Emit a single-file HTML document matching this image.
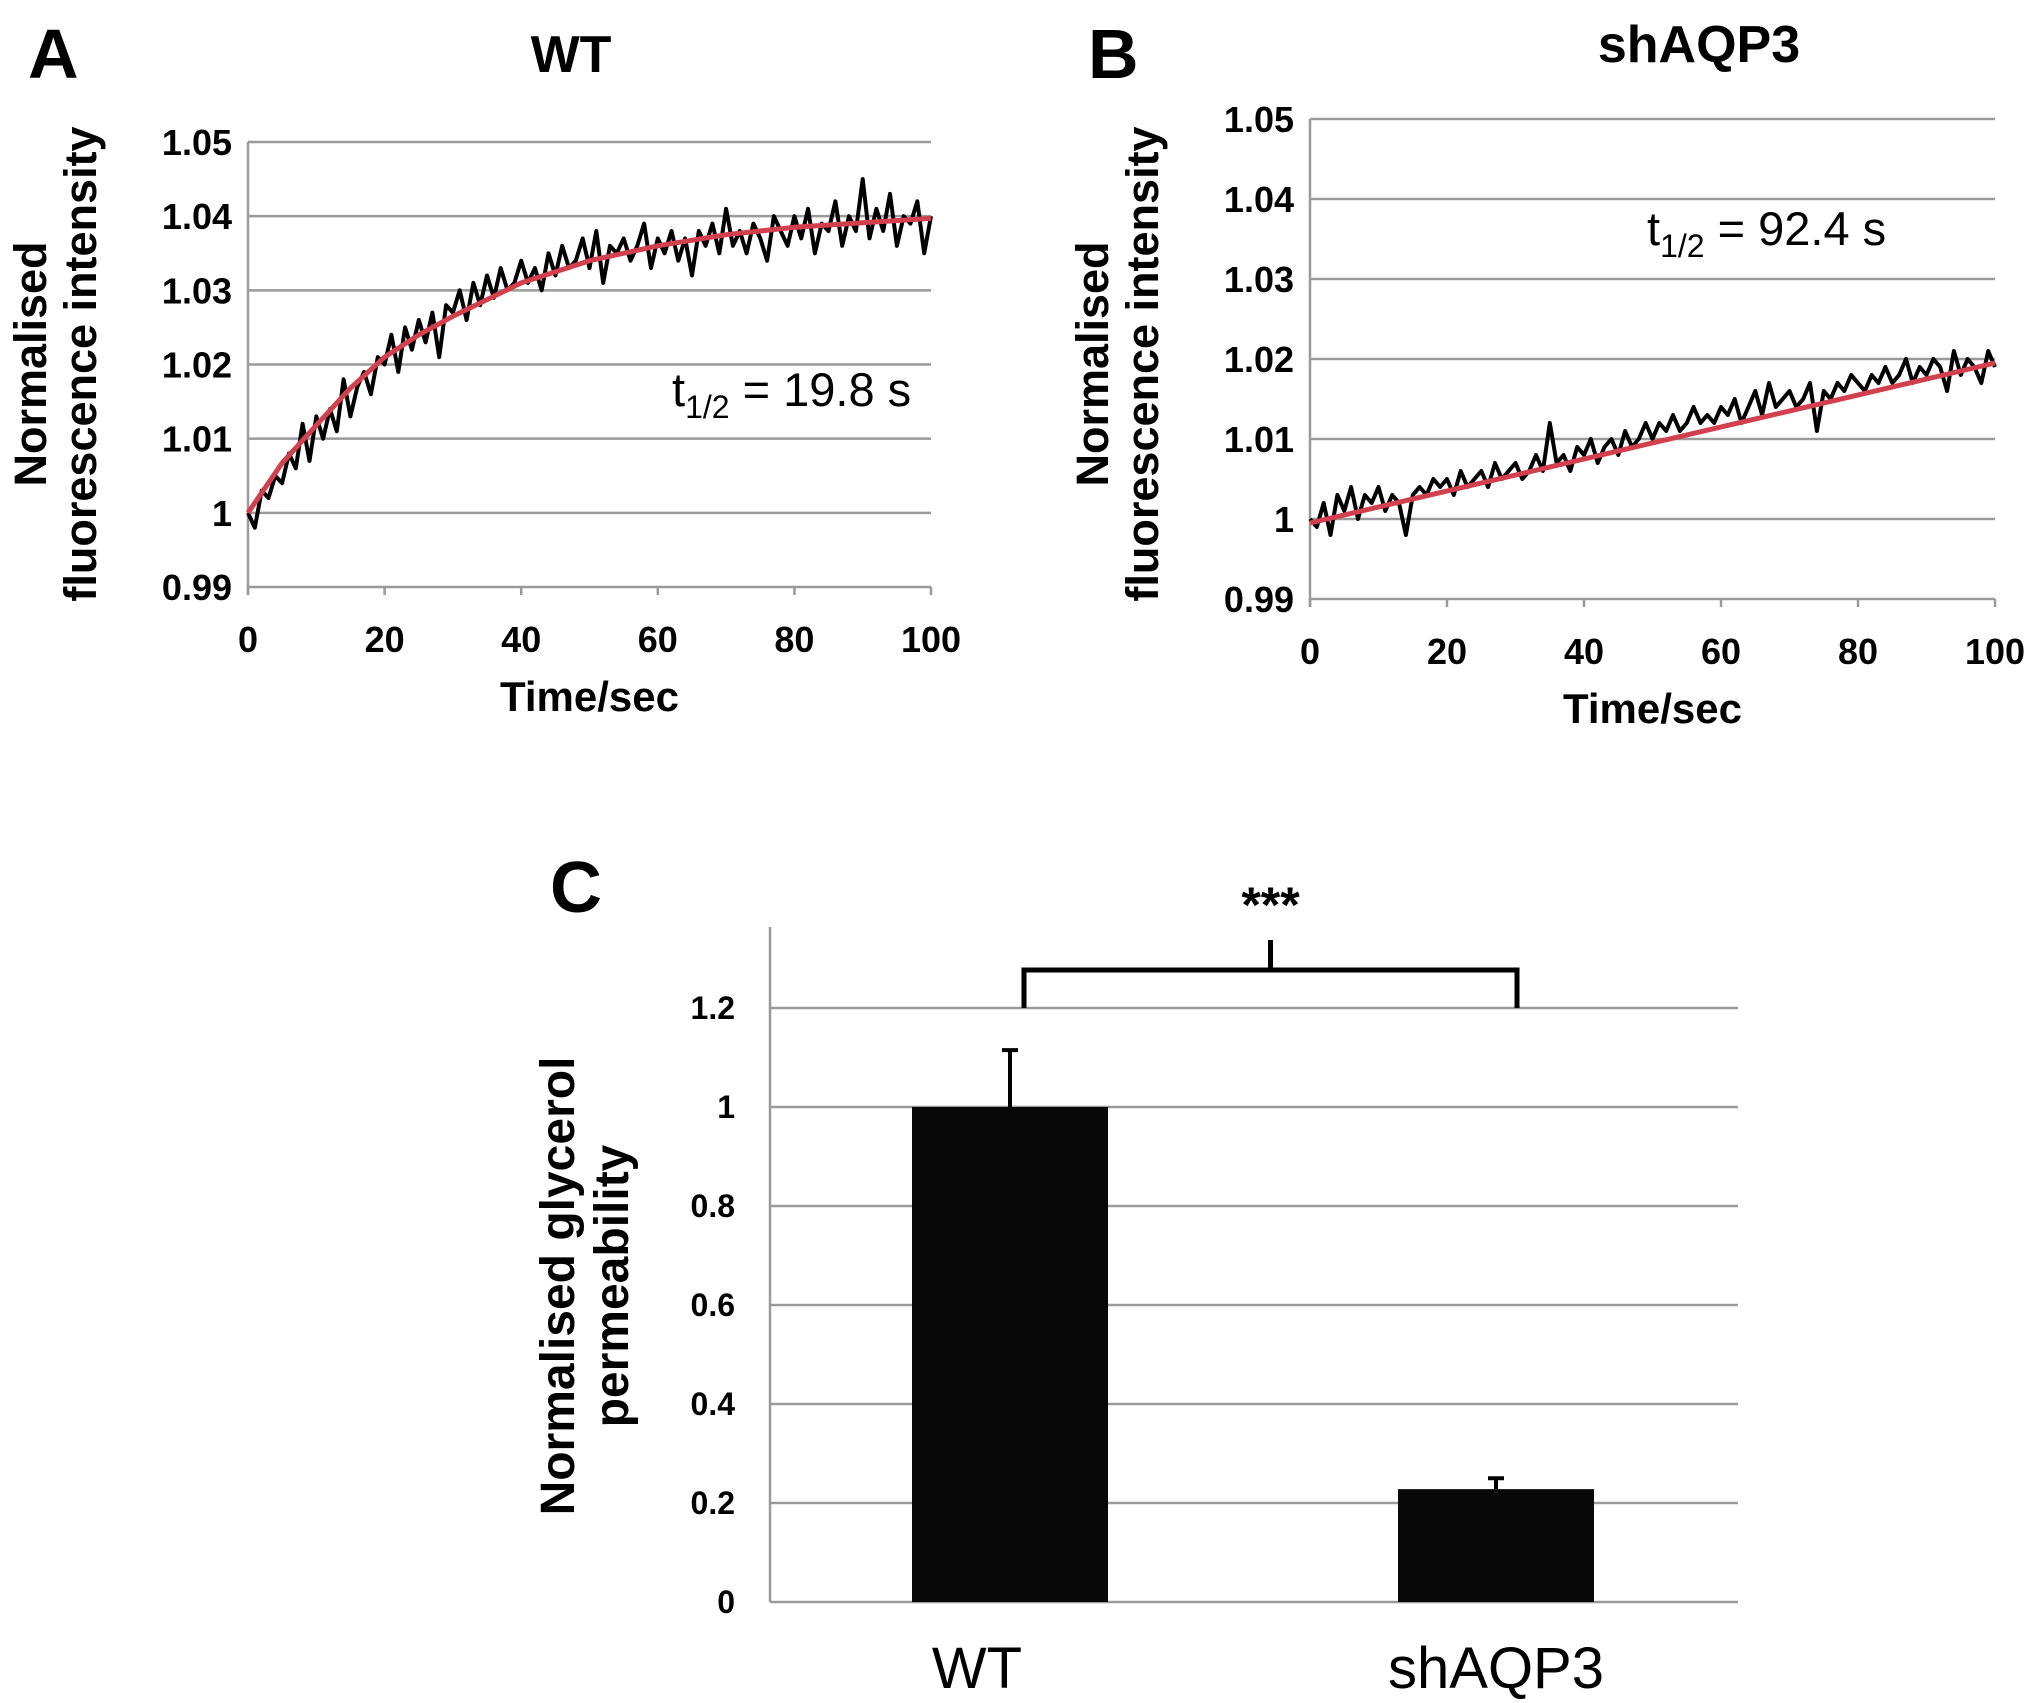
<!DOCTYPE html>
<html><head><meta charset="utf-8"><style>
html,body{margin:0;padding:0;background:#fff;}
svg{display:block;}
text{font-family:"Liberation Sans",Arial,sans-serif;}
</style></head><body>
<svg id="fig" width="2031" height="1703" viewBox="0 0 2031 1703" xmlns="http://www.w3.org/2000/svg">
<rect width="2031" height="1703" fill="#fff"/>
<text x="28" y="78" font-size="70" font-weight="bold">A</text>
<text x="571" y="72" font-size="52" font-weight="bold" text-anchor="middle">WT</text>
<text x="1088" y="78" font-size="70" font-weight="bold">B</text>
<text x="1699" y="62" font-size="52" font-weight="bold" text-anchor="middle">shAQP3</text>
<text x="550" y="912" font-size="72" font-weight="bold">C</text>
<g id="pa"></g>
<g id="pb"></g>
<g id="pc"></g>
</svg>
<script>
// ---- data ----
const timeTicks = [0,20,40,60,80,100];
const yTicksAB = [0.99,1,1.01,1.02,1.03,1.04,1.05];
const yTickLabelsAB = ["0.99","1","1.01","1.02","1.03","1.04","1.05"];
const wtRaw = [1.000,0.998,1.003,1.002,1.005,1.004,1.008,1.006,1.012,1.007,
1.013,1.010,1.014,1.011,1.018,1.013,1.017,1.019,1.016,1.021,
1.020,1.024,1.019,1.025,1.022,1.026,1.023,1.027,1.021,1.028,
1.027,1.030,1.026,1.031,1.028,1.032,1.029,1.033,1.030,1.031,
1.034,1.031,1.033,1.030,1.035,1.032,1.036,1.033,1.034,1.037,
1.033,1.038,1.031,1.036,1.035,1.037,1.034,1.036,1.039,1.033,
1.037,1.035,1.038,1.034,1.037,1.032,1.038,1.036,1.039,1.035,
1.041,1.036,1.038,1.035,1.039,1.037,1.034,1.040,1.038,1.036,
1.040,1.037,1.041,1.035,1.039,1.038,1.042,1.036,1.040,1.038,
1.045,1.037,1.041,1.038,1.043,1.036,1.040,1.039,1.042,1.035,1.040];
const wtFitT = [0,5,10,15,20,25,30,40,50,60,70,80,90,100];
const wtFit = [1.000,1.0067,1.0118,1.0168,1.0210,1.0240,1.0265,1.0310,1.0340,1.0360,1.0375,1.0385,1.0391,1.0397];
const shRaw = [1.000,0.999,1.002,0.998,1.003,1.001,1.004,1.000,1.003,1.002,
1.004,1.001,1.003,1.002,0.998,1.003,1.004,1.003,1.005,1.004,
1.005,1.003,1.006,1.004,1.005,1.006,1.004,1.007,1.005,1.006,
1.007,1.005,1.006,1.008,1.006,1.012,1.007,1.008,1.006,1.009,
1.008,1.010,1.007,1.009,1.010,1.008,1.011,1.009,1.010,1.012,
1.010,1.012,1.011,1.013,1.011,1.012,1.014,1.012,1.013,1.012,
1.014,1.013,1.015,1.012,1.014,1.016,1.013,1.017,1.014,1.015,
1.016,1.014,1.015,1.017,1.011,1.016,1.015,1.017,1.016,1.018,
1.017,1.016,1.018,1.017,1.019,1.017,1.018,1.020,1.017,1.019,
1.018,1.020,1.019,1.016,1.021,1.018,1.020,1.019,1.017,1.021,1.019];
const shFitT = [0,100];
const shFit = [0.9995,1.0195];
const barCats = ["WT","shAQP3"];
const barVals = [1.0,0.228];
const barErr = [0.115,0.022];
const yTicksC = [0,0.2,0.4,0.6,0.8,1,1.2];
const yTickLabelsC = ["0","0.2","0.4","0.6","0.8","1","1.2"];
const sigLabel = "***";

const NS="http://www.w3.org/2000/svg";
function mk(parent,tag,attrs,txt){const e=document.createElementNS(NS,tag);for(const k in attrs)e.setAttribute(k,attrs[k]);if(txt!==undefined)e.textContent=txt;parent.appendChild(e);return e;}

function lineChart(g,cfg,raw,fitT,fit,tText,tX,tY,pfx){
  const sx=v=>cfg.x0+(v-0)/(100-0)*(cfg.x1-cfg.x0);
  const sy=v=>cfg.y0+(v-0.99)/(1.05-0.99)*(cfg.y1-cfg.y0);
  yTicksAB.forEach((v,i)=>{
    const l=mk(g,'line',{x1:cfg.x0,x2:cfg.x1,y1:sy(v),y2:sy(v),stroke:'#9a9a9a','stroke-width':2.5});
    
    
    const t=mk(g,'text',{x:cfg.x0-16,y:sy(v)+13,'font-size':36,'font-weight':'bold','text-anchor':'end'},yTickLabelsAB[i]);
    
    
  });
  const ax=mk(g,'line',{x1:cfg.x0,x2:cfg.x0,y1:cfg.y1,y2:cfg.y0+8,stroke:'#9a9a9a','stroke-width':2.5});
  
  
  timeTicks.forEach(v=>{
    const tk=mk(g,'line',{x1:sx(v),x2:sx(v),y1:cfg.y0,y2:cfg.y0+8,stroke:'#9a9a9a','stroke-width':2.5});
    
    
    const t=mk(g,'text',{x:sx(v),y:cfg.y0+65,'font-size':36,'font-weight':'bold','text-anchor':'middle'},String(v));
    
    
  });
  const d=raw.map((v,i)=>(i?'L':'M')+sx(i).toFixed(1)+' '+sy(v).toFixed(1)).join(' ');
  const p=mk(g,'path',{d:d,fill:'none',stroke:'#000','stroke-width':4,'stroke-linejoin':'round'});
  
  
  const fd=fitT.map((t,i)=>(i?'L':'M')+sx(t).toFixed(1)+' '+sy(fit[i]).toFixed(1)).join(' ');
  const f=mk(g,'path',{d:fd,fill:'none',stroke:'#d2404d','stroke-width':5,'stroke-linejoin':'round'});
  
  
  const xt=mk(g,'text',{x:(cfg.x0+cfg.x1)/2,y:cfg.y0+124,'font-size':42,'font-weight':'bold','text-anchor':'middle'},'Time/sec');
  
  
  const yt=mk(g,'text',{transform:`translate(${cfg.yt},${cfg.ytc}) rotate(-90)`,'font-size':45,'font-weight':'bold','text-anchor':'middle'});
  
  
  mk(yt,'tspan',{x:0,y:0},'Normalised');
  mk(yt,'tspan',{x:0,y:50},'fluorescence intensity');
  const tt=mk(g,'text',{x:tX,y:tY,'font-size':47,'text-anchor':'start'});
  
  
  mk(tt,'tspan',{},'t');
  mk(tt,'tspan',{'font-size':32,dy:12},'1/2');
  mk(tt,'tspan',{dy:-12},' = '+tText);
}
lineChart(document.getElementById('pa'),{x0:248,x1:931,y0:587,y1:142,yt:46,ytc:364},wtRaw,wtFitT,wtFit,'19.8 s',672,406,'wt');
lineChart(document.getElementById('pb'),{x0:1310,x1:1995,y0:599,y1:119,yt:1108,ytc:364},shRaw,shFitT,shFit,'92.4 s',1647,245,'shaqp3');

// Panel C
(function(){
  const g=document.getElementById('pc');
  const x0=770,x1=1738,y0=1602,yTop=1008; // yTop = 1.2
  const sy=v=>y0-(v/1.2)*(y0-yTop);
  const barCx=[1010,1496];
  const labCx=[977,1496];
  const bw=196;
  yTicksC.forEach((v,i)=>{
    const l=mk(g,'line',{x1:x0,x2:x1,y1:sy(v),y2:sy(v),stroke:'#9a9a9a','stroke-width':2.5});
    
    
    const t=mk(g,'text',{x:735,y:sy(v)+11,'font-size':32,'font-weight':'bold','text-anchor':'end'},yTickLabelsC[i]);
    
    
  });
  const ax=mk(g,'line',{x1:x0,x2:x0,y1:927,y2:y0,stroke:'#9a9a9a','stroke-width':2.5});
  
  
  barCats.forEach((c,i)=>{
    const cx=barCx[i];
    const b=mk(g,'rect',{x:cx-bw/2,y:sy(barVals[i]),width:bw,height:y0-sy(barVals[i]),fill:'#080808'});
    
    
    const e=mk(g,'path',{d:`M${cx} ${sy(barVals[i])} V${sy(barVals[i]+barErr[i])} M${cx-8} ${sy(barVals[i]+barErr[i])} H${cx+8}`,stroke:'#000','stroke-width':4,fill:'none'});
    
    
    const t=mk(g,'text',{x:labCx[i],y:1688,'font-size':58,'text-anchor':'middle'},c);
    
    
  });
  const lx=1024,rx=1517,by=sy(1.2)-38,mid=(lx+rx)/2;
  const br=mk(g,'path',{d:`M${lx} ${sy(1.2)} V${by} H${rx} V${sy(1.2)} M${mid} ${by} V${by-30}`,stroke:'#000','stroke-width':5,fill:'none'});
  
  
  const s=mk(g,'text',{x:mid,y:922,'font-size':50,'font-weight':'bold','text-anchor':'middle'},sigLabel);
  
  
  const yt=mk(g,'text',{transform:'translate(574,1286) rotate(-90)','font-size':48,'font-weight':'bold','text-anchor':'middle'});
  
  
  mk(yt,'tspan',{x:0,y:0},'Normalised glycerol');
  mk(yt,'tspan',{x:0,y:54},'permeability');
})();
</script>
</body></html>
